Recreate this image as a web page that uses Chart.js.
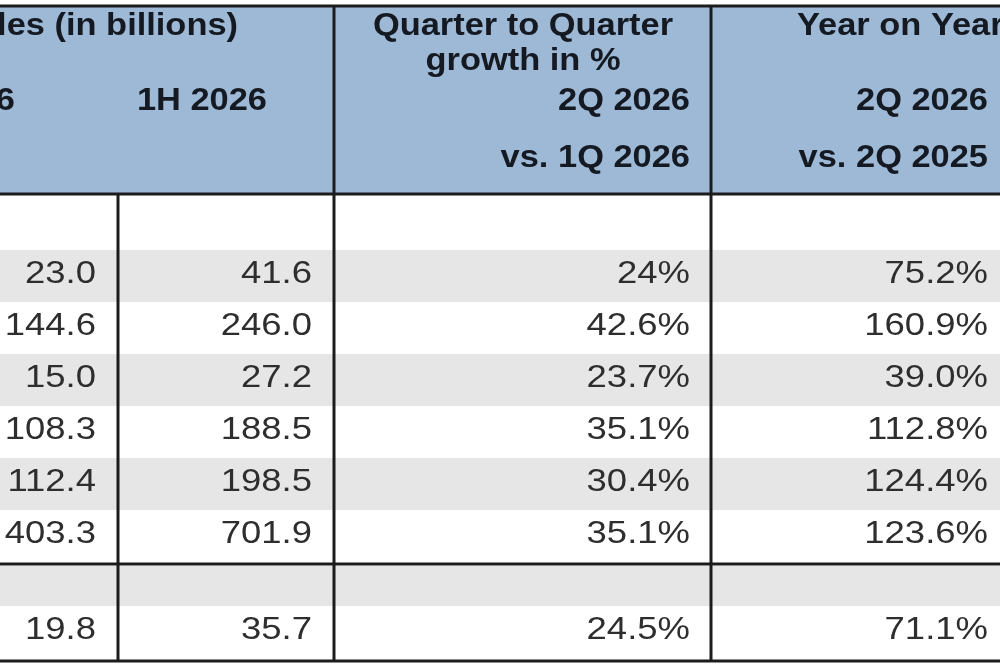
<!DOCTYPE html>
<html>
<head>
<meta charset="utf-8">
<script src="https://cdn.jsdelivr.net/npm/chart.js@4.4.1/dist/chart.umd.min.js"></script>
<style>
  html, body { margin: 0; padding: 0; background: #fff; }
  #wrap { width: 1000px; height: 666px; }
</style>
</head>
<body>
<div id="wrap"><canvas id="table" width="1000" height="666"></canvas></div>
<script>
// values (row labels are cropped out of the source picture)
const sales2Q2026 = [23.0, 144.6, 15.0, 108.3, 112.4, 403.3, 19.8];
const sales1H2026 = [41.6, 246.0, 27.2, 188.5, 198.5, 701.9, 35.7];
const growthQoQ = ["24%", "42.6%", "23.7%", "35.1%", "30.4%", "35.1%", "24.5%"];
const growthYoY = ["75.2%", "160.9%", "39.0%", "112.8%", "124.4%", "123.6%", "71.1%"];

const groupHeaders = ["Sales (in billions)", "Quarter to Quarter", "growth in %", "Year on Year"];
const columnHeaders = ["2Q 2026", "1H 2026", "2Q 2026", "vs. 1Q 2026", "2Q 2026", "vs. 2Q 2025"];

// layout, in scale units (1 unit = 1 px of the 1000x666 frame)
const groupHeaderPos = [
  { x: 238, y: 35, align: "right" },
  { x: 523, y: 35, align: "center" },
  { x: 523, y: 70, align: "center" },
  { x: 797, y: 35, align: "left" },
];
const columnHeaderPos = [
  { x: 15, y: 110 }, { x: 267, y: 110 },
  { x: 690, y: 110 }, { x: 690, y: 167 },
  { x: 988, y: 110 }, { x: 988, y: 167 },
];
const cellRight = [96, 312, 690, 988];
const colLines = [334, 711];     // full height
const innerColLine = 118;        // body only
const headerTop = 6, headerBottom = 194;
const rowTop1 = 250, rowH = 52;  // first block of six rows
const sepLine = 564, blankTop2 = 566, rowTop2 = 606, tableBottom = 661;

const HEAD_FONT = "bold 31px 'Liberation Sans', Arial, sans-serif";
const BODY_FONT = "32px 'Liberation Sans', Arial, sans-serif";

function rowTop(i) {
  return i < 6 ? rowTop1 + rowH * i : rowTop2;
}

function drawText(ctx, str, x, y, align, font, color, stretch) {
  ctx.save();
  ctx.font = font;
  ctx.fillStyle = color;
  ctx.textAlign = align;
  ctx.textBaseline = "alphabetic";
  ctx.translate(x, y);
  ctx.scale(stretch, 1);
  ctx.fillText(str, 0, 0);
  ctx.restore();
}

const tablePlugin = {
  id: "tableCells",
  afterDraw(chart) {
    const { ctx, scales: { x, y } } = chart;
    const X = (v) => x.getPixelForValue(v);
    const Y = (v) => y.getPixelForValue(v);
    const left = X(0), right = X(1000);

    // header band
    ctx.fillStyle = "#9db9d6";
    ctx.fillRect(left, Y(headerTop), right - left, Y(headerBottom) - Y(headerTop));

    // striped rows
    ctx.fillStyle = "#e6e6e6";
    for (let i = 0; i < 6; i += 2) {
      ctx.fillRect(left, Y(rowTop(i)), right - left, Y(rowTop(i) + rowH) - Y(rowTop(i)));
    }
    ctx.fillRect(left, Y(blankTop2), right - left, Y(rowTop2) - Y(blankTop2));

    // grid lines
    ctx.strokeStyle = "#1c1c1c";
    ctx.lineWidth = 3;
    ctx.beginPath();
    [headerTop, headerBottom, sepLine, tableBottom].forEach((v) => {
      ctx.moveTo(left, Y(v)); ctx.lineTo(right, Y(v));
    });
    colLines.forEach((v) => {
      ctx.moveTo(X(v), Y(headerTop)); ctx.lineTo(X(v), Y(tableBottom));
    });
    ctx.moveTo(X(innerColLine), Y(headerBottom)); ctx.lineTo(X(innerColLine), Y(tableBottom));
    ctx.stroke();

    // header text
    groupHeaders.forEach((t, i) => {
      const p = groupHeaderPos[i];
      drawText(ctx, t, X(p.x), Y(p.y), p.align, HEAD_FONT, "#151a22", 1.11);
    });
    columnHeaders.forEach((t, i) => {
      const p = columnHeaderPos[i];
      drawText(ctx, t, X(p.x), Y(p.y), "right", HEAD_FONT, "#151a22", 1.11);
    });

    // body cells
    const columns = [
      sales2Q2026.map((v) => v.toFixed(1)),
      sales1H2026.map((v) => v.toFixed(1)),
      growthQoQ,
      growthYoY,
    ];
    columns.forEach((col, c) => {
      col.forEach((t, r) => {
        drawText(ctx, t, X(cellRight[c]), Y(rowTop(r) + 33), "right", BODY_FONT, "#2e2e2e", 1.14);
      });
    });
  },
};

new Chart(document.getElementById("table"), {
  type: "scatter",
  data: { datasets: [] },
  options: {
    responsive: false,
    animation: false,
    layout: { padding: 0 },
    plugins: { legend: { display: false }, tooltip: { enabled: false } },
    scales: {
      x: { type: "linear", min: 0, max: 1000, display: false },
      y: { type: "linear", min: 0, max: 666, reverse: true, display: false },
    },
  },
  plugins: [tablePlugin],
});
</script>
</body>
</html>
